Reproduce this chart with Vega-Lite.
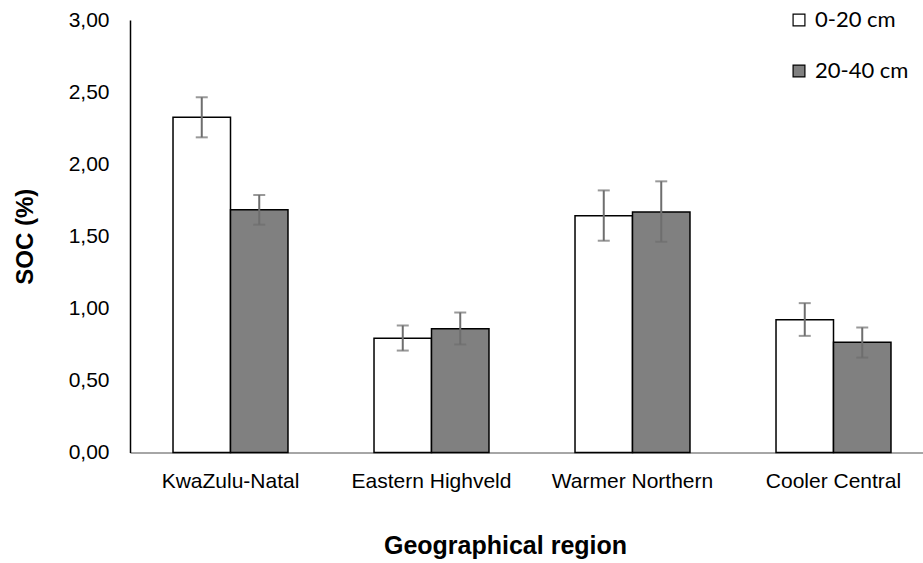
{
  "$schema": "https://vega.github.io/schema/vega-lite/v6.json",
  "autosize": "none",
  "padding": {"left": 130, "top": 20, "right": 0, "bottom": 111},
  "width": 804,
  "height": 432.5,
  "background": "white",
  "data": {
    "values": [
      {"region": "KwaZulu-Natal", "depth": "0-20 cm", "soc": 2.325, "lo": 2.186, "hi": 2.464},
      {"region": "KwaZulu-Natal", "depth": "20-40 cm", "soc": 1.684, "lo": 1.580, "hi": 1.786},
      {"region": "Eastern Highveld", "depth": "0-20 cm", "soc": 0.793, "lo": 0.707, "hi": 0.881},
      {"region": "Eastern Highveld", "depth": "20-40 cm", "soc": 0.858, "lo": 0.749, "hi": 0.971},
      {"region": "Warmer Northern", "depth": "0-20 cm", "soc": 1.642, "lo": 1.469, "hi": 1.818},
      {"region": "Warmer Northern", "depth": "20-40 cm", "soc": 1.668, "lo": 1.462, "hi": 1.881},
      {"region": "Cooler Central", "depth": "0-20 cm", "soc": 0.920, "lo": 0.809, "hi": 1.036},
      {"region": "Cooler Central", "depth": "20-40 cm", "soc": 0.765, "lo": 0.658, "hi": 0.867}
    ]
  },
  "encoding": {
    "x": {
      "field": "region", "type": "nominal",
      "sort": ["KwaZulu-Natal", "Eastern Highveld", "Warmer Northern", "Cooler Central"],
      "scale": {"paddingInner": 0.428, "paddingOuter": 0.214},
      "axis": {
        "title": "Geographical region", "labelAngle": 0, "ticks": false,
        "domainColor": "#888888", "domainWidth": 1.5,
        "labelFont": "Arial", "labelFontSize": 21, "labelColor": "#000000", "labelPadding": 18,
        "titleFont": "Arial", "titleFontSize": 25, "titleFontWeight": "bold", "titleColor": "#000000", "titlePadding": 42,
        "titleX": 375, "titleAlign": "center"
      }
    },
    "xOffset": {"field": "depth", "type": "nominal", "scale": {"paddingInner": 0, "paddingOuter": 0}}
  },
  "layer": [
    {
      "mark": {"type": "bar", "stroke": "black", "strokeWidth": 1.5},
      "encoding": {
        "y": {
          "field": "soc", "type": "quantitative",
          "scale": {"domain": [0, 3]},
          "axis": {
            "title": "SOC (%)", "values": [0, 0.5, 1, 1.5, 2, 2.5, 3], "grid": false, "ticks": false,
            "labelExpr": "replace(format(datum.value, '.2f'), '.', ',')",
            "domainColor": "#000000", "domainWidth": 1.5,
            "labelFont": "Arial", "labelFontSize": 21, "labelColor": "#000000", "labelPadding": 21,
            "titleFont": "Arial", "titleFontSize": 24, "titleFontWeight": "bold", "titleColor": "#000000", "titlePadding": 31
          }
        },
        "color": {
          "field": "depth", "type": "nominal",
          "scale": {"domain": ["0-20 cm", "20-40 cm"], "range": ["#ffffff", "#808080"]},
          "legend": {
            "title": null, "orient": "none", "legendX": 658, "legendY": -11,
            "symbolType": "square", "symbolSize": 140, "symbolStrokeColor": "#000000", "symbolStrokeWidth": 1.2,
            "labelFont": "Lato", "labelFontSize": 22, "labelColor": "#000000", "rowPadding": 29, "labelOffset": 5
          }
        }
      }
    },
    {
      "mark": {"type": "rule", "color": "#6e6e6e", "strokeWidth": 2},
      "encoding": {"y": {"field": "lo", "type": "quantitative"}, "y2": {"field": "hi"}}
    },
    {
      "mark": {"type": "tick", "orient": "horizontal", "color": "#6e6e6e", "thickness": 2, "size": 12},
      "encoding": {"y": {"field": "lo", "type": "quantitative"}}
    },
    {
      "mark": {"type": "tick", "orient": "horizontal", "color": "#6e6e6e", "thickness": 2, "size": 12},
      "encoding": {"y": {"field": "hi", "type": "quantitative"}}
    }
  ],
  "config": {"view": {"stroke": null}}
}
